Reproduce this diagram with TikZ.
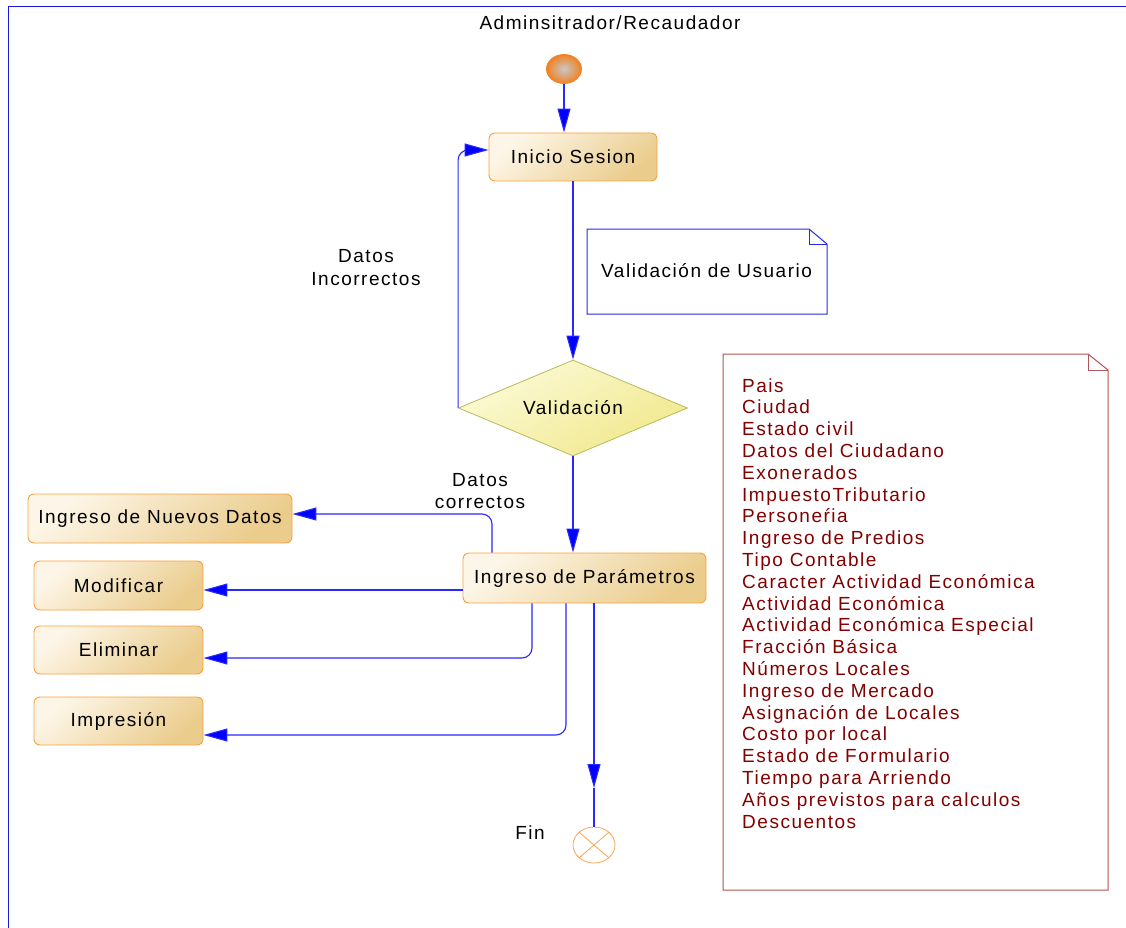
\documentclass[tikz,border=0pt]{standalone}
\usepackage{fontspec}
\setmainfont{Liberation Sans}[LetterSpace=8]
\usetikzlibrary{arrows.meta,shapes.geometric}
\definecolor{frameblue}{RGB}{25,25,225}
\definecolor{connblue}{RGB}{40,40,255}
\definecolor{tipblue}{RGB}{0,0,255}
\definecolor{boxborder}{RGB}{250,160,60}
\definecolor{boxlight}{RGB}{253,246,232}
\definecolor{boxdark}{RGB}{234,204,140}
\definecolor{diaborder}{RGB}{185,185,90}
\definecolor{dialight}{RGB}{252,250,215}
\definecolor{diadark}{RGB}{240,232,140}
\definecolor{noteblue}{RGB}{40,40,230}
\definecolor{notered}{RGB}{175,85,85}
\definecolor{textred}{RGB}{130,0,0}
\definecolor{startorange}{RGB}{240,130,35}
\definecolor{finorange}{RGB}{250,165,85}
\begin{document}
\begin{tikzpicture}[x=1pt,y=-1pt,
  every node/.style={font=\fontsize{19}{22}\selectfont},
  actbox/.style={draw=boxborder, line width=0.9pt, rounded corners=6pt,
    top color=boxlight, bottom color=boxdark, shading angle=40,
    inner sep=0pt},
  conn/.style={draw=connblue, line width=1.1pt},
  arr/.style={conn, -{Triangle[length=24pt,width=13pt,fill=tipblue]}},
  lbl/.style={align=center, inner sep=0pt}
]
\useasboundingbox (0,0) rectangle (1126,928);
% swimlane frame
\draw[frameblue, line width=1pt] (8,928) -- (8,7) -- (1126,7);
\node[inner sep=0pt] (title) at (610,23) {Adminsitrador/Recaudador};

% start and end
\node[ellipse, draw=startorange, line width=0.8pt, inner color=black!22, outer color=startorange,
  minimum width=35pt, minimum height=29pt, inner sep=0pt] (start) at (564,69) {};
\node[ellipse, draw=finorange, line width=0.8pt, minimum width=42pt, minimum height=36pt,
  inner sep=0pt] (fin) at (594,845) {};
\draw[finorange, line width=0.8pt] (fin.north west) -- (fin.south east) (fin.north east) -- (fin.south west);
\node[lbl] (finlbl) at (530,833) {Fin};

% activities
\node[actbox, minimum width=168pt, minimum height=48pt] (inicio) at (573,157) {Inicio Sesion};
\node[actbox, minimum width=243pt, minimum height=50pt] (param) at (584.5,578) {Ingreso de Par\'ametros};
\node[actbox, minimum width=264pt, minimum height=49pt] (nuevos) at (160,518.5) {Ingreso de Nuevos Datos};
\node[actbox, minimum width=169pt, minimum height=49pt] (modif) at (118.5,585.5) {Modificar};
\node[actbox, minimum width=169pt, minimum height=48pt] (elim) at (118.5,650) {Eliminar};
\node[actbox, minimum width=169pt, minimum height=48pt] (impr) at (118.5,721) {Impresi\'on};

% decision
\node[diamond, shape aspect=2.385, draw=diaborder, line width=0.8pt, top color=dialight, bottom color=diadark,
  shading angle=30, minimum width=229pt, minimum height=96pt, inner sep=0pt] (valid) at (573,408) {Validaci\'on};

% note: Validacion de Usuario
\draw[noteblue, line width=1pt, fill=white] (587,229) -- (809,229) -- (827,244) -- (827,314) -- (587,314) -- cycle;
\draw[noteblue, line width=0.8pt] (809,229) -- (809,244) -- (827,244);
\node[anchor=west, inner sep=0pt] (notevu) at (601,271) {Validaci\'on de Usuario};

% note: parameter list
\draw[notered, line width=1pt, fill=white] (723,354) -- (1088,354) -- (1108,370) -- (1108,890) -- (723,890) -- cycle;
\draw[notered, line width=0.8pt] (1088,354) -- (1088,370) -- (1108,370);
\foreach \t [count=\i from 0] in {Pais, Ciudad, Estado civil, Datos del Ciudadano, Exonerados,
  ImpuestoTributario, Persone\'ria, Ingreso de Predios, Tipo Contable,
  Caracter Actividad Econ\'omica, Actividad Econ\'omica, Actividad Econ\'omica Especial,
  Fracci\'on B\'asica, N\'umeros Locales, Ingreso de Mercado, Asignaci\'on de Locales,
  Costo por local, Estado de Formulario, Tiempo para Arriendo, A\~nos previstos para calculos,
  Descuentos}
  \node[anchor=base west, inner sep=0pt, text=textred] (item\i) at (742,{392+21.8*\i}) {\t};

% labels
\node[lbl] (lblinc) at (366,268) {Datos\\[1pt]Incorrectos};
\node[lbl] (lblcor) at (480,491) {Datos\\correctos};

% connectors
\draw[arr] (start.south) -- (start.south |- inicio.north);
\draw[arr] (valid.north |- inicio.south) -- (valid.north);
\draw[arr, rounded corners=10pt] (valid.west) |- ([yshift=7pt]inicio.west);
\draw[arr] (valid.south) -- (valid.south |- param.north);
\draw[arr, rounded corners=10pt] ([xshift=-92.5pt]param.north) |- ([yshift=4.5pt]nuevos.east);
\draw[arr] ([yshift=-12pt]param.west) -- ([yshift=-12pt]param.west -| modif.east);
\draw[arr, rounded corners=10pt] ([xshift=-52.5pt]param.south) |- ([yshift=-8pt]elim.east);
\draw[arr, rounded corners=10pt] ([xshift=-18.5pt]param.south) |- ([yshift=-14pt]impr.east);
\coordinate (finarrow) at (594,788);
\draw[arr] ([xshift=9.5pt]param.south) -- (finarrow);
\draw[conn] (finarrow) -- (fin.north);
\end{tikzpicture}
\end{document}
